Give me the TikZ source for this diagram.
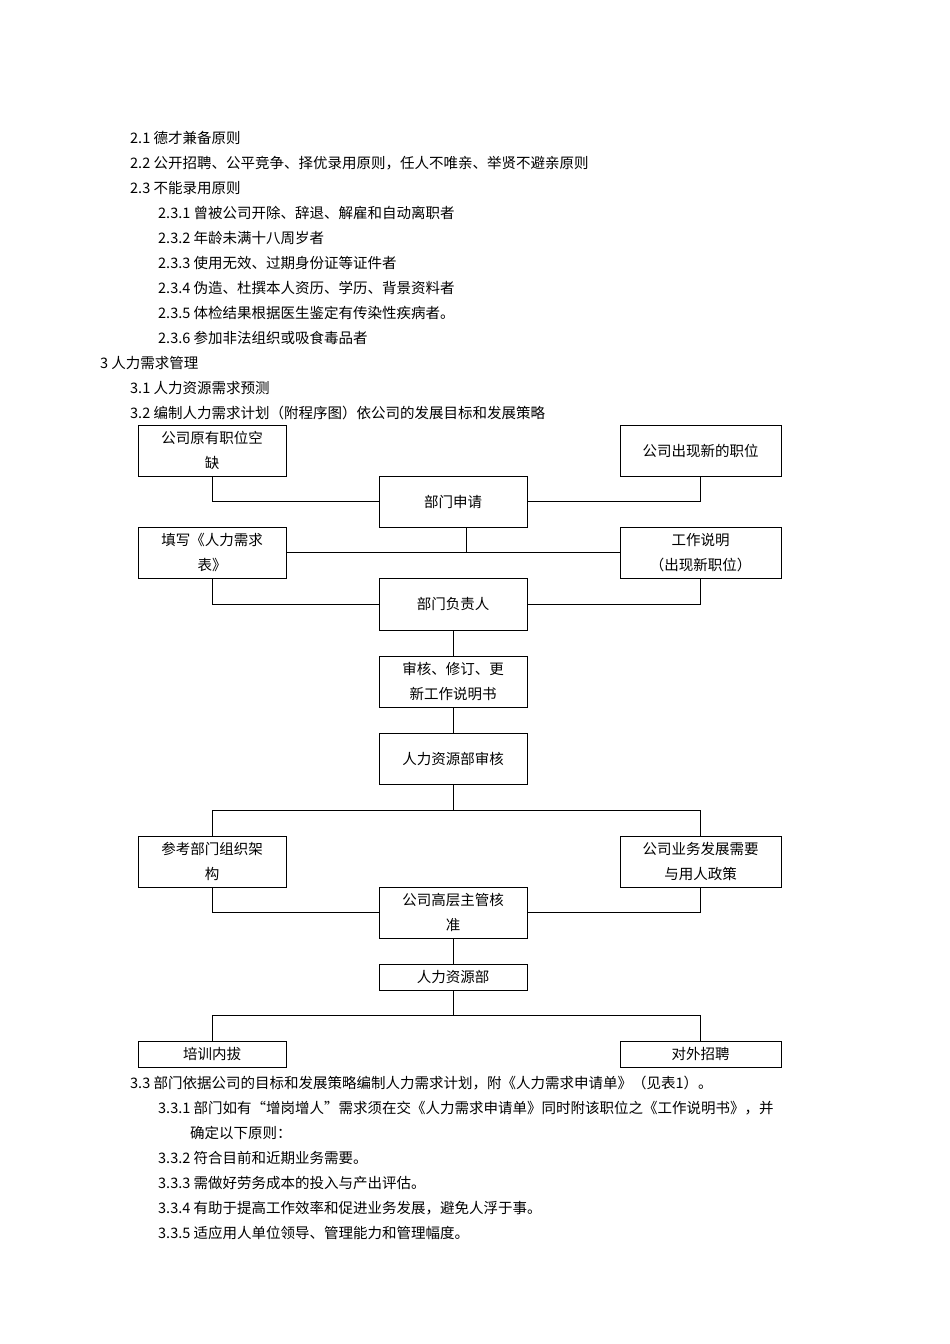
\documentclass[tikz,border=0pt]{standalone}
\usepackage{fontspec}
\setmainfont{Noto Sans CJK SC}
\begin{document}
\begin{tikzpicture}[x=1pt,y=-1pt,
  txt/.style={anchor=base west,inner sep=0pt,font=\fontsize{14.5}{18}\selectfont},
  bx/.style={draw,line width=0.8pt,align=center,inner sep=0pt,font=\fontsize{14.5}{25}\selectfont},
  ln/.style={line width=0.8pt}]
\useasboundingbox (0,0) rectangle (950,1344);
\node[txt] (t1) at (130,143) {2.1 德才兼备原则};
\node[txt] (t2) at (130,168) {2.2 公开招聘、公平竞争、择优录用原则，任人不唯亲、举贤不避亲原则};
\node[txt] (t3) at (130,193) {2.3 不能录用原则};
\node[txt] (t4) at (158,218) {2.3.1 曾被公司开除、辞退、解雇和自动离职者};
\node[txt] (t5) at (158,243) {2.3.2 年龄未满十八周岁者};
\node[txt] (t6) at (158,268) {2.3.3 使用无效、过期身份证等证件者};
\node[txt] (t7) at (158,293) {2.3.4 伪造、杜撰本人资历、学历、背景资料者};
\node[txt] (t8) at (158,318) {2.3.5 体检结果根据医生鉴定有传染性疾病者。};
\node[txt] (t9) at (158,343) {2.3.6 参加非法组织或吸食毒品者};
\node[txt] (t10) at (100,368) {3 人力需求管理};
\node[txt] (t11) at (130,393) {3.1 人力资源需求预测};
\node[txt] (t12) at (130,418) {3.2 编制人力需求计划（附程序图）依公司的发展目标和发展策略};
\newcommand{\bxat}[6]{\node[bx,minimum width={#4-#2},minimum height={#5-#3}] (#1) at ({(#2+#4)/2},{(#3+#5)/2}) {#6};}
\bxat{b1}{138}{425}{286}{476}{公司原有职位空\\缺}
\bxat{b2}{620}{425}{781}{476}{公司出现新的职位}
\bxat{b3}{379}{476}{527}{527}{部门申请}
\bxat{b4}{138}{527}{286}{578}{填写《人力需求\\表》}
\bxat{b5}{620}{527}{781}{578}{工作说明\\（出现新职位）}
\bxat{b6}{379}{578}{527}{630}{部门负责人}
\bxat{b7}{379}{656}{527}{707}{审核、修订、更\\新工作说明书}
\bxat{b8}{379}{733}{527}{784}{人力资源部审核}
\bxat{b9}{138}{836}{286}{887}{参考部门组织架\\构}
\bxat{b10}{620}{836}{781}{887}{公司业务发展需要\\与用人政策}
\bxat{b11}{379}{887}{527}{938}{公司高层主管核\\准}
\bxat{b12}{379}{964}{527}{990}{人力资源部}
\bxat{b13}{138}{1041}{286}{1067}{培训内拔}
\bxat{b14}{620}{1041}{781}{1067}{对外招聘}
\draw[ln] (b1.south) |- (b3.west);
\draw[ln] (b2.south) |- (b3.east);
\coordinate (j1) at (466,552);
\draw[ln] (b3.south -| j1) -- (j1);
\draw[ln] (b4.east) -- (b5.west);
\draw[ln] (b4.south) |- (b6.west);
\draw[ln] (b5.south) |- (b6.east);
\draw[ln] (b6) -- (b7);
\draw[ln] (b7) -- (b8);
\coordinate (j2) at (453,810);
\draw[ln] (b8.south) -- (j2);
\draw[ln] (b9.north) |- (j2) -| (b10.north);
\draw[ln] (b9.south) |- (b11.west);
\draw[ln] (b10.south) |- (b11.east);
\draw[ln] (b11) -- (b12);
\coordinate (j3) at (453,1015);
\draw[ln] (b12.south) -- (j3);
\draw[ln] (b13.north) |- (j3) -| (b14.north);
\node[txt] (u1) at (130,1088) {3.3 部门依据公司的目标和发展策略编制人力需求计划，附《人力需求申请单》（见表1）。};
\node[txt] (u2) at (158,1113) {3.3.1 部门如有“增岗增人”需求须在交《人力需求申请单》同时附该职位之《工作说明书》，并};
\node[txt] (u3) at (190,1138) {确定以下原则：};
\node[txt] (u4) at (158,1163) {3.3.2 符合目前和近期业务需要。};
\node[txt] (u5) at (158,1188) {3.3.3 需做好劳务成本的投入与产出评估。};
\node[txt] (u6) at (158,1213) {3.3.4 有助于提高工作效率和促进业务发展，避免人浮于事。};
\node[txt] (u7) at (158,1238) {3.3.5 适应用人单位领导、管理能力和管理幅度。};
\end{tikzpicture}
\end{document}
